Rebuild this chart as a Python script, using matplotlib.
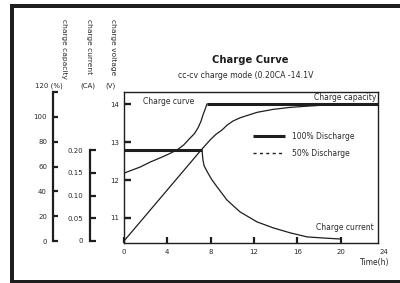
import matplotlib
matplotlib.use('Agg')
import matplotlib.pyplot as plt
from matplotlib.patches import Rectangle
from matplotlib.lines import Line2D

plt.rcParams['font.family'] = ['DejaVu Sans']

# ---------------- data ----------------
time_ticks = [0, 4, 8, 12, 16, 20]
time_labels = ['0', '4', '8', '12', '16', '20']
time_last = 24
volt_ticks = [11, 12, 13, 14]
cur_ticks = [0, 0.05, 0.10, 0.15, 0.20]
cur_labels = ['0', '0.05', '0.10', '0.15', '0.20']
cap_ticks = [0, 20, 40, 60, 80, 100, 120]
cap_labels = ['0', '20', '40', '60', '80', '100', '']

# charge voltage (V)
volt_t = [0, 1.48, 2.4, 3.32, 4.1, 4.89, 5.5, 6.09, 6.5, 6.83, 7.1, 7.29, 7.5, 7.66]
volt_v = [12.18, 12.34, 12.47, 12.58, 12.68, 12.79, 12.92, 13.1, 13.22, 13.37, 13.54, 13.71, 13.87, 14.0]
cv_t = [7.66, 23.45]
cv_v = [14.0, 14.0]
# charge current (CA)
cc_t = [0, 7.2]
cc_c = [0.20, 0.20]
cur_t = [7.2, 7.29, 7.4, 7.76, 8.1, 8.59, 9.51, 10.71, 12.28, 13.76, 15.33, 16.9, 18.4, 19.94]
cur_c = [0.20, 0.178, 0.165, 0.149, 0.135, 0.119, 0.090, 0.064, 0.042, 0.029, 0.018, 0.009, 0.0066, 0.0044]
# charge capacity (%)
cap_t = [0, 7.2, 8.03, 8.5, 9.05, 9.5, 10.06, 10.71, 11.2, 11.63, 12.28, 13.76, 15.33, 16.9, 18.37, 19.94, 23.45]
cap_p = [0, 74.1, 82.1, 86.0, 89.4, 93.2, 96.6, 99.2, 100.6, 101.8, 103.6, 106.0, 107.6, 108.6, 109.4, 110.0, 110.3]

# ---------------- layout ----------------
W, H = 400, 283
fig = plt.figure(figsize=(W / 100, H / 100), dpi=100)

def fx(px):
    return px / W

def fy(py):
    return 1 - py / H

INK = '#1e1e1e'
TXT = '#2a2a2a'

# outer frame bands
for (x0, y0, x1, y1) in [(10, 4, 400, 8), (10, 4, 14, 283), (10, 280, 400, 283)]:
    fig.add_artist(Rectangle((fx(x0), fy(y1)), fx(x1) - fx(x0), fy(y0) - fy(y1),
                             transform=fig.transFigure, color=INK, lw=0))

L, R, T, B = 124, 378, 92, 243
ax = fig.add_axes([fx(L), fy(B), fx(R) - fx(L), fy(T) - fy(B)])
ax.set_xlim(0, 23.45)
ax.set_ylim(10.342, 14.316)
for s in ax.spines.values():
    s.set_linewidth(1.0)
    s.set_color(INK)

ax.set_xticks(time_ticks)
ax.set_xticklabels(time_labels)
ax.set_yticks(volt_ticks)
ax.tick_params(axis='x', direction='in', length=4, width=1.6, labelsize=5, pad=4.5,
               colors=INK, labelcolor=TXT)
ax.tick_params(axis='y', direction='in', length=5, width=1.7, labelsize=5, pad=3.5,
               colors=INK, labelcolor=TXT)
ax.text(time_last, -0.040, str(time_last), transform=ax.get_xaxis_transform(),
        ha='center', va='top', fontsize=5, color=TXT, clip_on=False)

# voltage
ax.plot(volt_t, volt_v, color=INK, lw=0.9)
ax.plot(cv_t, cv_v, color=INK, lw=2.2, solid_capstyle='butt')

# capacity axis
axc = ax.twinx()
axc.set_ylim(-1.6, 120)
axc.yaxis.set_ticks_position('left')
axc.yaxis.set_label_position('left')
for k in ['right', 'top', 'bottom']:
    axc.spines[k].set_visible(False)
axc.spines['left'].set_position(('axes', (53 - L) / (R - L)))
axc.spines['left'].set_bounds(0, 120)
axc.spines['left'].set_linewidth(1.6)
axc.spines['left'].set_color(INK)
axc.set_yticks(cap_ticks)
axc.set_yticklabels(cap_labels)
axc.tick_params(axis='y', direction='in', length=3.5, width=1.6, labelsize=5, pad=4.3,
                colors=INK, labelcolor=TXT)
axc.plot(cap_t, cap_p, color=INK, lw=0.9)

# current axis
axi = ax.twinx()
axi.set_ylim(-0.0044, 0.3275)
axi.yaxis.set_ticks_position('left')
axi.yaxis.set_label_position('left')
for k in ['right', 'top', 'bottom']:
    axi.spines[k].set_visible(False)
axi.spines['left'].set_position(('axes', (90 - L) / (R - L)))
axi.spines['left'].set_bounds(0, 0.20)
axi.spines['left'].set_linewidth(1.6)
axi.spines['left'].set_color(INK)
axi.set_yticks(cur_ticks)
axi.set_yticklabels(cur_labels)
axi.tick_params(axis='y', direction='in', length=4, width=1.6, labelsize=5, pad=5,
                colors=INK, labelcolor=TXT)
axi.plot(cc_t, cc_c, color=INK, lw=2.2, solid_capstyle='butt')
axi.plot(cur_t, cur_c, color=INK, lw=0.9)

# in-plot texts
ax.text((143 - L) / (R - L), (B - 102) / (B - T), 'Charge curve', transform=ax.transAxes,
        ha='left', va='center', fontsize=5.5, color=TXT)
ax.text((376 - L) / (R - L), (B - 97) / (B - T), 'Charge capacity', transform=ax.transAxes,
        ha='right', va='center', fontsize=5.5, color=TXT)
ax.text((374 - L) / (R - L), (B - 228) / (B - T), 'Charge current', transform=ax.transAxes,
        ha='right', va='center', fontsize=5.5, color=TXT)

# legend
handles = [Line2D([], [], color=INK, lw=2.2, solid_capstyle='butt'),
           Line2D([], [], color=INK, lw=1.0, ls=(0, (2.2, 2.4)))]
leg = ax.legend(handles, ['100% Discharge', '50% Discharge'], loc='upper left',
                bbox_to_anchor=((253 - L) / (R - L), (B - 132) / (B - T)),
                frameon=False, fontsize=5.5, handlelength=4.2, handletextpad=0.9,
                labelspacing=1.0, borderpad=0, borderaxespad=0)
for t in leg.get_texts():
    t.set_color(TXT)

# titles
fig.text(fx(250), fy(60), 'Charge Curve', ha='center', va='center', fontsize=7.2,
         fontweight='bold', color=INK)
fig.text(fx(246), fy(75), 'cc-cv charge mode (0.20CA -14.1V', ha='center', va='center',
         fontsize=5.6, color=TXT)

# axis headers
for x, s in [(64, 'charge capacity'), (88.5, 'charge current'), (112.5, 'charge voltage')]:
    fig.text(fx(x), fy(19), s, rotation=-90, ha='center', va='top', fontsize=5.4, color=TXT)
fig.text(fx(35), fy(86), '120 (%)', ha='left', va='center', fontsize=5, color=TXT)
fig.text(fx(87.5), fy(86), '(CA)', ha='center', va='center', fontsize=5, color=TXT)
fig.text(fx(110), fy(86), '(V)', ha='center', va='center', fontsize=5, color=TXT)
fig.text(fx(389), fy(263), 'Time(h)', ha='right', va='center', fontsize=5.5, color=TXT)

fig.savefig('out.png', dpi=100)
